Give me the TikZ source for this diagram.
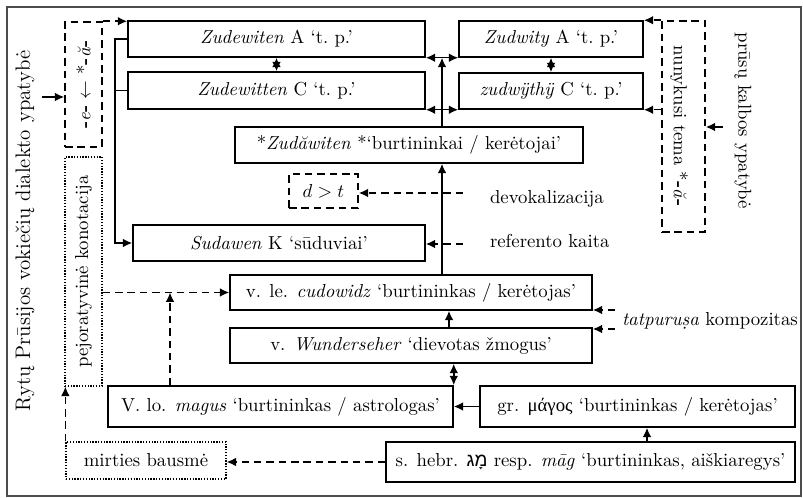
\documentclass[tikz,border=0pt]{standalone}
\usepackage{fontspec}
\usetikzlibrary{arrows.meta}
\newfontfamily\greekfont{Liberation Serif}
\newfontfamily\hebfont[Script=Hebrew]{Liberation Sans}
\TeXXeTstate=1
\newcommand{\pxu}{0.533pt}
\tikzset{
  pbox/.style={draw, line width=0.8pt, inner sep=0pt},
  dbox/.style={pbox, dash pattern=on 4pt off 2.6pt},
  obox/.style={draw, line width=0.7pt, dash pattern=on 0.7pt off 0.8pt, inner sep=0pt},
  sz/.style 2 args={minimum width=#1*\pxu, minimum height=#2*\pxu},
  dl/.style={dash pattern=on 4pt off 2.6pt}
}

\begin{document}
\begin{tikzpicture}[x=\pxu,y=-\pxu,line width=0.8pt,>={Latex[length=5pt,width=4.6pt]}]
      \useasboundingbox (0,0) rectangle (803,498);
      % Frame
      \draw[black!70,line width=0.6pt] (7,7) rectangle (801,496);

      % Main boxes
      \node[pbox,sz={297}{36}] (zA) at (276.5,39) {\textit{Zudewiten} A `t.~p.'};
      \node[pbox,sz={297}{37}] (zC) at (276.5,90.5) {\textit{Zudewitten} C `t.~p.'};
      \node[pbox,sz={184}{36}] (yA) at (551,39) {\textit{Zudwity} A `t.~p.'};
      \node[pbox,sz={184}{36}] (yC) at (551,91) {\textit{zudwÿthÿ} C `t.~p.'};
      \node[pbox,sz={348}{36}] (zud) at (409,145) {*\textit{Zudăwiten} *`burtininkai / kerėtojai'};
      \node[dbox,sz={69}{34}] (dt) at (323.5,191) {$d>t$};
      \node[pbox,sz={292}{36}] (sud) at (279,243) {\textit{Sudawen} K `sūduviai'};
      \node[pbox,sz={362}{35}] (cud) at (411,292.5) {v. le. \textit{cudowidz} `burtininkas / kerėtojas'};
      \node[pbox,sz={362}{35}] (wun) at (411,345.5) {v. \textit{Wunderseher} `dievotas žmogus'};
      \node[pbox,sz={345}{41}] (mag) at (280.5,406.5) {V. lo. \textit{magus} `burtininkas / astrologas'};
      \node[pbox,sz={315}{41}] (gr) at (637.5,406.5) {gr. {\greekfont μάγος} `burtininkas / kerėtojas'};
      \node[pbox,sz={409}{40}] (heb) at (590.5,462) {s. hebr. {\hebfont\beginR מָג\endR} resp. \textit{māg} `burtininkas, aiškiaregys'};
      \node[obox,sz={160}{37}] (mir) at (146,460.5) {mirties bausmė};

      % Side boxes
      \node[dbox,sz={37}{125}] (ea) at (83.5,84.5) {};
      \node[obox,sz={37}{229}] (pej) at (83.5,271.5) {};
      \node[dbox,sz={43}{211}] (tema) at (683.5,126.5) {};
      \node[rotate=90] (eaT) at (ea) {\textbf{-}\textit{e}\textbf{-} $\leftarrow$ *\textbf{-}\textit{ă}\textbf{-}};
      \node[rotate=90] (pejT) at (pej) {pejoratyvinė konotacija};
      \node[rotate=-90] (temaT) at (679,126) {nunykusi tema *\textbf{-}\textit{ă}\textbf{-}};

      % Free labels
      \node[rotate=90,font=\fontsize{11.2}{13}\selectfont] (ryt) at (25,231) {Rytų Prūsijos vokiečių dialekto ypatybė};
      \node[rotate=-90] (pru) at (743,121) {prūsų kalbos ypatybė};
      \node[anchor=west] (devo) at (483,199) {devokalizacija};
      \node[anchor=west] (refk) at (483,241) {referento kaita};
      \node[anchor=west] (tatp) at (615,321) {\textit{tatpuru\d{s}a} kompozitas};

      % Left side
      \coordinate (ein) at (42,97);
      \draw[->] (ein) -- (ein -| ea.west);
      \draw[dl,->] (ea.north east) -- (ea.north east -| zA.west);
      \coordinate (br) at (115,0);
      \draw (zA.west) -- (zA.west -| br) |- (zC.west);
      \draw[->] (zA.west -| br) |- (sud.west);

      % Top rows
      \draw[<->] (zA.south east) -- (zA.south east -| yA.west);
      \draw[<->] (zC.south east) -- (zC.south east -| yC.west);
      \draw[<->] (zA.south) -- (zC.north);
      \draw[<->] (yA.south) -- (yC.north);
      \coordinate (vx) at (442,0);
      \draw[->] (zud.north -| vx) -- (zA.south east -| vx);
      \draw[->] (cud.north -| vx) -- (zud.south -| vx);

      % Comments on the right
      \coordinate (devS) at (463,193);
      \draw[dl,->] (devS) -- (devS -| dt.east);
      \coordinate (refS) at (463,244);
      \draw[dl,->] (refS) -- (refS -| sud.east);
      \coordinate (tpA) at (615,310);
      \coordinate (tpB) at (615,329);
      \draw[dl,->] (tpA) -- (tpA -| cud.east);
      \draw[dl,->] (tpB) -- (tpB -| wun.east);

      % Lower chain
      \coordinate (wx) at (449,0);
      \draw[->] (wun.north -| wx) -- (cud.south -| wx);
      \draw[<->] (wun.south -| mag.east) -- (mag.north east);
      \draw[->] (gr.west) -- (mag.east);
      \coordinate (hx) at (647,0);
      \draw[->] (heb.north -| hx) -- (gr.south -| hx);
      \draw[dl,->] (heb.west) -- (heb.west -| mir.east);
      \draw[dl,->] (mir.north west) -- (mir.north west |- pej.south);
      \draw[dl,->] (pej.east |- cud.west) -- (cud.west);
      \coordinate (mx) at (170,0);
      \draw[dl,->] (mag.north -| mx) -- (cud.west -| mx);

      % Right side
      \draw[dl,->] (tema.north west) -- (tema.north west -| yA.east);
      \draw[dl,->] (yC.south east -| tema.west) -- (yC.south east);
      \coordinate (tin) at (723,127);
      \draw[->] (tin) -- (tin -| tema.east);
\end{tikzpicture}
\end{document}
